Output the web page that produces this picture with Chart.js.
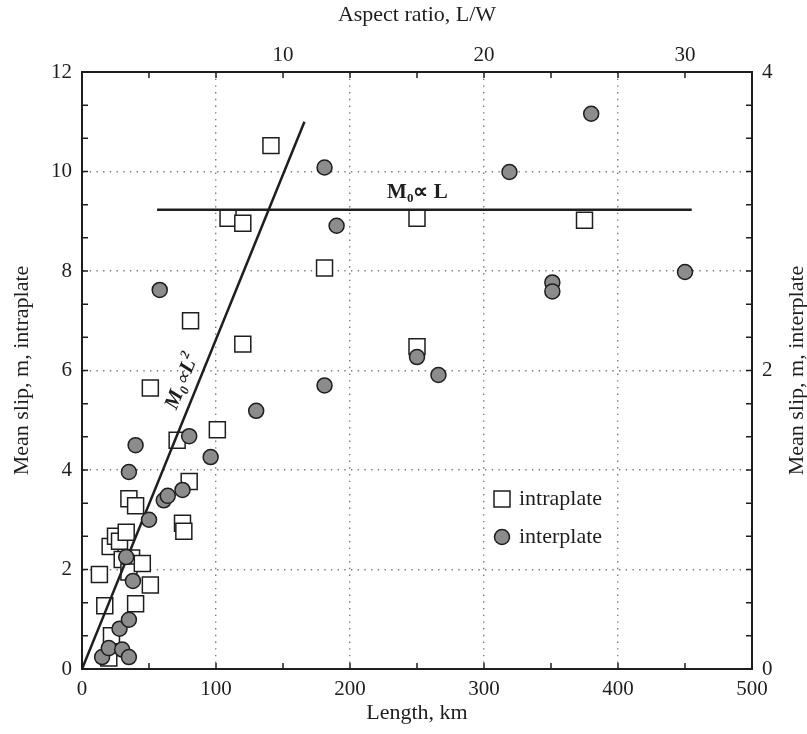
<!DOCTYPE html>
<html>
<head>
<meta charset="utf-8">
<script src="https://cdn.jsdelivr.net/npm/chart.js@4.4.0/dist/chart.umd.min.js"></script>
<style>
  html, body { margin: 0; padding: 0; background: #fff; }
  #wrap { width: 807px; height: 734px; }
</style>
</head>
<body>
<div id="wrap"><canvas id="chart" width="807" height="734"></canvas></div>
<script>
// intraplate events: rupture length (km) / mean slip (m, left axis)
const intraLength = [13, 17, 22, 20, 21, 25, 28, 30, 33, 35, 37, 35, 40, 40, 45, 51, 51, 71, 75, 76,
                     80, 81, 101, 109, 120, 120, 141, 181, 250, 250, 375];
const intraSlip = [1.90, 1.27, 0.67, 0.22, 2.46, 2.67, 2.57, 2.20, 2.75, 3.42, 2.23, 1.95, 3.28, 1.31, 2.12, 1.69, 5.65, 4.60, 2.93, 2.77,
                   3.77, 7.00, 4.81, 9.06, 8.96, 6.53, 10.52, 8.06, 9.06, 6.48, 9.02];

// interplate events: rupture length (km) / mean slip (m, right axis)
const interLength = [15, 20, 30, 35, 28, 35, 38, 33, 50, 61, 64, 75, 35, 40, 80, 96, 130, 58, 181, 190,
                     181, 250, 266, 319, 380, 351, 351, 450];
const interSlip = [0.08, 0.14, 0.13, 0.08, 0.27, 0.33, 0.59, 0.75, 1.00, 1.13, 1.16, 1.20, 1.32, 1.50, 1.56, 1.42, 1.73, 2.54, 3.36, 2.97,
                   1.90, 2.09, 1.97, 3.33, 3.72, 2.59, 2.53, 2.66];

// scaling laws
const squareLawLength = [0, 166];
const squareLawSlip = [0, 11];
const linearLawLength = [56, 455];
const linearLawSlip = [9.23, 9.23];

// tick labels
const lengthLabels = [0, 100, 200, 300, 400, 500];
const slipLabels = [0, 2, 4, 6, 8, 10, 12];
const interSlipLabels = [0, 2, 4];
const aspectLabels = [10, 20, 30];
const lengthGrid = [100, 200, 300, 400];
const slipGrid = [2, 4, 6, 8, 10];

const FONT = "'Liberation Serif', 'Times New Roman', serif";
const INK = '#1e1e1e';

function labelFor(value, labels) {
    const hit = labels.find(l => Math.abs(l - value) < 1e-6);
    return hit === undefined ? '' : String(hit);
}
function onGrid(ctx, lines) {
    if (!ctx.tick) return false;
    return lines.some(l => Math.abs(l - ctx.tick.value) < 1e-6);
}
function evenTicks(count, step) {
    return scale => {
        scale.ticks = Array.from({ length: count + 1 }, (_, i) => ({ value: i * step }));
    };
}

// short tick marks pointing into the plot
const inwardTicks = {
    id: 'inwardTicks',
    afterDatasetsDraw(chart) {
        const ctx = chart.ctx;
        const area = chart.chartArea;
        const len = 6;
        ctx.save();
        ctx.strokeStyle = INK;
        ctx.lineWidth = 1.5;
        ctx.beginPath();
        ['x', 'x2', 'y', 'y2'].forEach(id => {
            const s = chart.scales[id];
            s.ticks.forEach(t => {
                const p = s.getPixelForValue(t.value);
                if (id === 'x') { ctx.moveTo(p, area.bottom); ctx.lineTo(p, area.bottom - len); }
                if (id === 'x2') { ctx.moveTo(p, area.top); ctx.lineTo(p, area.top + len); }
                if (id === 'y') { ctx.moveTo(area.left, p); ctx.lineTo(area.left + len, p); }
                if (id === 'y2') { ctx.moveTo(area.right, p); ctx.lineTo(area.right - len, p); }
            });
        });
        ctx.stroke();
        ctx.restore();
    }
};

function drawParts(ctx, parts, x, y) {
    let total = 0;
    parts.forEach(p => { ctx.font = p.font; total += ctx.measureText(p.text).width; });
    let cx = x - total / 2;
    parts.forEach(p => {
        ctx.font = p.font;
        ctx.fillText(p.text, cx, y + (p.dy || 0));
        cx += ctx.measureText(p.text).width;
    });
}

// legend, right axis title and scaling-law labels
const decorations = {
    id: 'decorations',
    afterDraw(chart) {
        const ctx = chart.ctx;
        const area = chart.chartArea;
        const xs = chart.scales.x, ys = chart.scales.y;
        ctx.save();
        ctx.fillStyle = INK;

        // right axis title, reading upwards
        ctx.save();
        ctx.translate(797, (area.top + area.bottom) / 2);
        ctx.rotate(-Math.PI / 2);
        ctx.font = '22px ' + FONT;
        ctx.textAlign = 'center';
        ctx.textBaseline = 'middle';
        ctx.fillText('Mean slip, m, interplate', 0, 0);
        ctx.restore();

        // legend
        const lx = area.left + 420;
        const ly1 = area.bottom - 170;
        const ly2 = area.bottom - 132;
        ctx.lineWidth = 1.5;
        ctx.strokeStyle = INK;
        ctx.fillStyle = '#fff';
        ctx.fillRect(lx - 8, ly1 - 8, 16, 16);
        ctx.strokeRect(lx - 8, ly1 - 8, 16, 16);
        ctx.beginPath();
        ctx.arc(lx, ly2, 7.5, 0, Math.PI * 2);
        ctx.fillStyle = '#8c8c8c';
        ctx.fill();
        ctx.stroke();
        ctx.fillStyle = INK;
        ctx.font = '22px ' + FONT;
        ctx.textAlign = 'left';
        ctx.textBaseline = 'alphabetic';
        ctx.fillText('intraplate', lx + 17, ly1 + 6);
        ctx.fillText('interplate', lx + 17, ly2 + 6);

        // M0 ∝ L label over the flat line
        const fx = (xs.getPixelForValue(linearLawLength[0]) + xs.getPixelForValue(linearLawLength[1])) / 2 - 7;
        const fy = ys.getPixelForValue(linearLawSlip[0]) - 12;
        ctx.textBaseline = 'alphabetic';
        drawParts(ctx, [
            { text: 'M', font: 'bold 21px ' + FONT },
            { text: '0', font: 'bold 13px ' + FONT, dy: 4 },
            { text: '\u221D L', font: 'bold 21px ' + FONT }
        ], fx, fy);

        // M0 ∝ L² label along the sloped line
        const x0 = xs.getPixelForValue(squareLawLength[0]), y0 = ys.getPixelForValue(squareLawSlip[0]);
        const x1 = xs.getPixelForValue(squareLawLength[1]), y1 = ys.getPixelForValue(squareLawSlip[1]);
        const ang = Math.atan2(y1 - y0, x1 - x0);
        const f = 0.515;
        ctx.save();
        ctx.translate(x0 + (x1 - x0) * f, y0 + (y1 - y0) * f);
        ctx.rotate(ang);
        drawParts(ctx, [
            { text: 'M', font: 'italic bold 21px ' + FONT },
            { text: '0', font: 'italic bold 13px ' + FONT, dy: 4 },
            { text: '\u221D', font: 'italic 19px ' + FONT },
            { text: 'L', font: 'italic bold 21px ' + FONT },
            { text: '2', font: 'italic bold 13px ' + FONT, dy: -9 }
        ], 0, -10);
        ctx.restore();

        ctx.restore();
    }
};

const tickFont = { family: FONT, size: 21 };
const titleFont = { family: FONT, size: 22 };
const dotted = { color: INK, width: 2, dash: [1.4, 5.3] };

new Chart(document.getElementById('chart'), {
    type: 'scatter',
    data: {
        datasets: [
            {
                label: 'interplate',
                data: interLength.map((x, i) => ({ x: x, y: interSlip[i] })),
                xAxisID: 'x', yAxisID: 'y2',
                pointStyle: 'circle', pointRadius: 7.5, pointHoverRadius: 7.5,
                pointBackgroundColor: '#8c8c8c', pointBorderColor: INK, pointBorderWidth: 1.5,
                order: 0
            },
            {
                label: 'M0 ∝ L²',
                data: squareLawLength.map((x, i) => ({ x: x, y: squareLawSlip[i] })),
                xAxisID: 'x', yAxisID: 'y',
                showLine: true, borderColor: INK, borderWidth: 2.5, pointRadius: 0, fill: false,
                order: 1
            },
            {
                label: 'M0 ∝ L',
                data: linearLawLength.map((x, i) => ({ x: x, y: linearLawSlip[i] })),
                xAxisID: 'x', yAxisID: 'y',
                showLine: true, borderColor: INK, borderWidth: 2.5, pointRadius: 0, fill: false,
                order: 1
            },
            {
                label: 'intraplate',
                data: intraLength.map((x, i) => ({ x: x, y: intraSlip[i] })),
                xAxisID: 'x', yAxisID: 'y',
                pointStyle: 'rect', pointRadius: 11.3, pointHoverRadius: 11.3,
                pointBackgroundColor: '#fff', pointBorderColor: INK, pointBorderWidth: 1.5,
                order: 2
            }
        ]
    },
    options: {
        responsive: false,
        animation: false,
        devicePixelRatio: 1,
        layout: { padding: 0 },
        plugins: { legend: { display: false }, tooltip: { enabled: false } },
        scales: {
            x: {
                type: 'linear', position: 'bottom', min: 0, max: 500,
                afterBuildTicks: evenTicks(10, 50),
                afterFit: s => { s.height = 65; },
                ticks: { autoSkip: false, maxRotation: 0, padding: 8, color: INK, font: tickFont,
                         callback: v => labelFor(v, lengthLabels) },
                grid: { drawTicks: false, lineWidth: 1.4,
                        color: c => onGrid(c, lengthGrid) ? '#7a7a7a' : 'rgba(0,0,0,0)' },
                border: dotted,
                title: { display: true, text: 'Length, km', color: INK, font: titleFont, padding: { top: 0, bottom: 8 } }
            },
            x2: {
                type: 'linear', position: 'top', min: 0, max: 100 / 3,
                afterBuildTicks: evenTicks(10, 10 / 3),
                afterFit: s => { s.height = 72; },
                ticks: { autoSkip: false, maxRotation: 0, padding: 4, color: INK, font: tickFont,
                         callback: v => labelFor(v, aspectLabels) },
                grid: { drawTicks: false, drawOnChartArea: false },
                border: { color: INK, width: 2 },
                title: { display: true, text: 'Aspect ratio, L/W', color: INK, font: titleFont, padding: { top: 2, bottom: 0 } }
            },
            y: {
                type: 'linear', position: 'left', min: 0, max: 12,
                afterBuildTicks: evenTicks(18, 2 / 3),
                afterFit: s => { s.width = 82; },
                ticks: { autoSkip: false, padding: 10, color: INK, font: tickFont,
                         callback: v => labelFor(v, slipLabels) },
                grid: { drawTicks: false, lineWidth: 1.4,
                        color: c => onGrid(c, slipGrid) ? '#7a7a7a' : 'rgba(0,0,0,0)' },
                border: dotted,
                title: { display: true, text: 'Mean slip, m, intraplate', color: INK, font: titleFont, padding: { top: 9, bottom: 0 } }
            },
            y2: {
                type: 'linear', position: 'right', min: 0, max: 4,
                afterBuildTicks: evenTicks(18, 2 / 9),
                afterFit: s => { s.width = 55; },
                ticks: { autoSkip: false, padding: 10, color: INK, font: tickFont,
                         callback: v => labelFor(v, interSlipLabels) },
                grid: { drawTicks: false, drawOnChartArea: false },
                border: { color: INK, width: 2 }
            }
        }
    },
    plugins: [inwardTicks, decorations]
});
</script>
</body>
</html>
